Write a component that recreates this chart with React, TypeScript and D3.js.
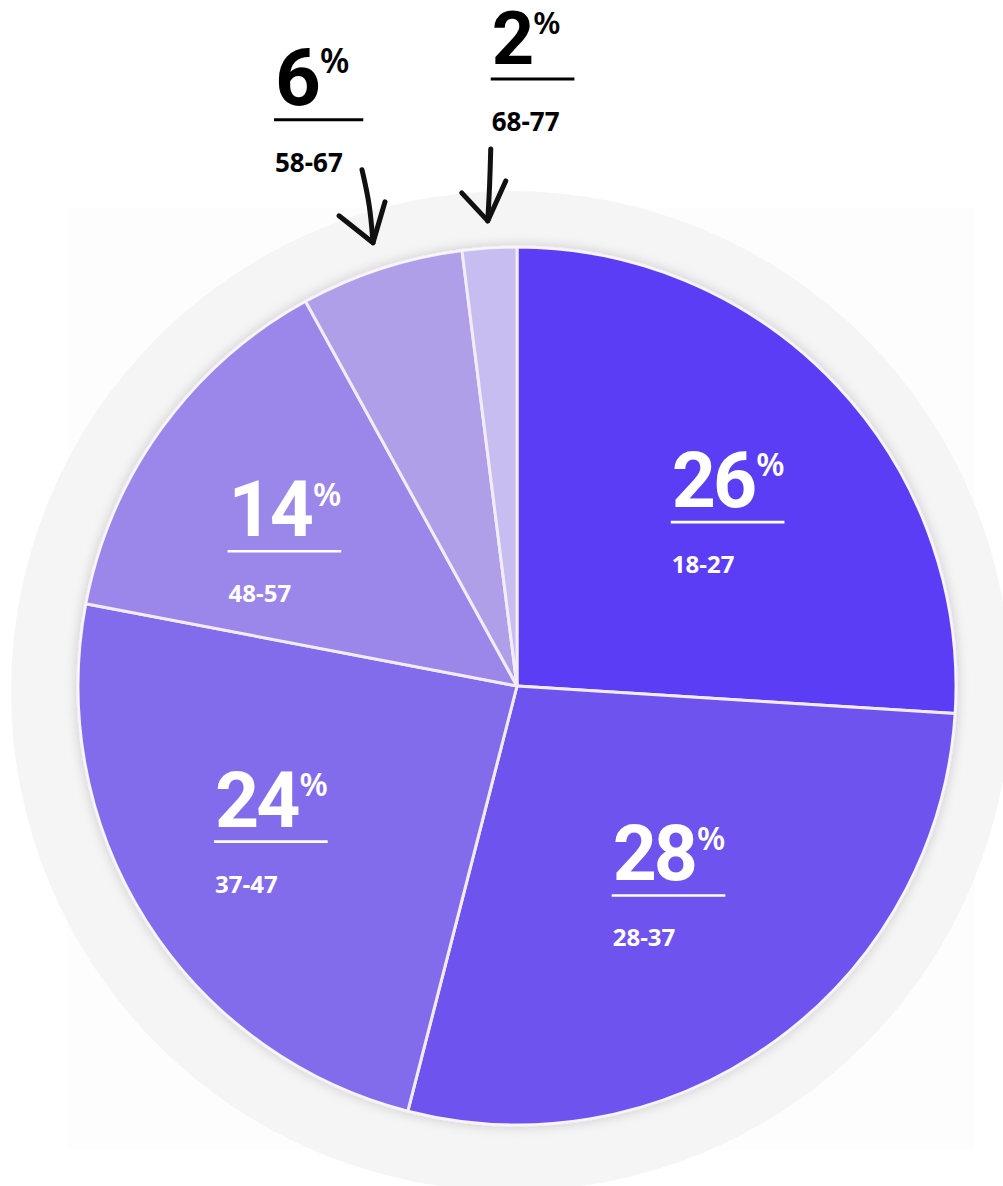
import React, { useEffect, useRef } from "react";
import * as d3 from "d3";

const ranges = ["18-27", "28-37", "37-47", "48-57", "58-67", "68-77"];
const shares = [26, 28, 24, 14, 6, 2];
const colors = ["#5C3CF6", "#6E52EE", "#826CEB", "#9B87E9", "#AF9FE9", "#C7BDF0"];
// inner labels: nudges from the label centroid; outer labels: offsets from arrow tip
const innerNudge: [number, number][] = [[13, 11], [-8, -19], [-19, 1], [-15, 14]];
const outerOffset: [number, number][] = [[-98, -138], [4, -157]];
const arrowShapes = [
  { shaft: [[-11, -73], [-3, -38], [0, 0]], left: [-34, -27], right: [12, -41] },
  { shaft: [[3, -72], [2, -35], [0, 0]], left: [-26, -28], right: [18, -40] },
];

const W = 1003, H = 1186;
const CX = 517, CY = 686, R = 439;

export default function App() {
  const ref = useRef<SVGSVGElement>(null);
  useEffect(() => {
    const svg = d3.select(ref.current);
    svg.selectAll("*").remove();
    const defs = svg.append("defs");
    const f = defs.append("filter").attr("id", "sh").attr("x", "-10%").attr("y", "-10%").attr("width", "120%").attr("height", "120%");
    f.append("feDropShadow").attr("dx", 0).attr("dy", 0).attr("stdDeviation", 6).attr("flood-color", "#000").attr("flood-opacity", 0.18);

    svg.append("rect").attr("x", 0).attr("y", 0).attr("width", W).attr("height", H).attr("fill", "#fff");
    svg.append("rect").attr("x", 68).attr("y", 208).attr("width", 907).attr("height", 942).attr("fill", "#FDFDFD");
    svg.append("circle").attr("cx", 511).attr("cy", 691).attr("r", 500).attr("fill", "#F5F5F5");

    const pie = d3.pie<number>().sort(null).value((d) => d).startAngle(0).endAngle(2 * Math.PI);
    const arcs = pie(shares);
    const arc = d3.arc<d3.PieArcDatum<number>>().innerRadius(0).outerRadius(R);
    const g = svg.append("g").attr("transform", `translate(${CX},${CY})`);
    const pg = g.append("g").attr("filter", "url(#sh)");
    pg.selectAll("path").data(arcs).join("path")
      .attr("d", arc as any)
      .attr("fill", (_, i) => colors[i])
      .attr("stroke", "#F3ECF7").attr("stroke-width", 3).attr("stroke-linejoin", "round");
    g.append("circle").attr("r", R).attr("fill", "none").attr("stroke", "#fff").attr("stroke-opacity", 0.6).attr("stroke-width", 1.5);

    const labelArc = d3.arc<d3.PieArcDatum<number>>().innerRadius(270).outerRadius(270);
    const drawLabel = (parent: any, left: number, base: number, num: number, range: string, color: string, numSize: number, rangeSize: number, sw: number) => {
      const t = parent.append("text").attr("x", left).attr("y", base)
        .attr("font-family", "Roboto, 'Noto Sans', sans-serif").attr("font-weight", 700)
        .attr("font-size", numSize).attr("letter-spacing", -3).attr("fill", color).text(String(num));
      const w = (t.node() as SVGTextElement).getComputedTextLength();
      const px = left + w + 2;
      const p = parent.append("text").attr("x", px).attr("y", base - numSize * 0.4)
        .attr("font-family", "'Noto Sans', sans-serif").attr("font-weight", 600)
        .attr("font-size", numSize * 0.42).attr("fill", color).text("%");
      const pw = (p.node() as SVGTextElement).getComputedTextLength();
      const ulEnd = Math.max(px + pw, left + (num >= 10 ? 111 : 0)) + (num >= 10 ? 0 : 14);
      parent.append("line").attr("x1", left - 1).attr("x2", ulEnd).attr("y1", base + 15).attr("y2", base + 15)
        .attr("stroke", color).attr("stroke-width", sw);
      parent.append("text").attr("x", left).attr("y", base + (num >= 10 ? 66 : 67))
        .attr("font-family", "'Noto Sans', sans-serif").attr("font-weight", 700)
        .attr("font-size", rangeSize).attr("fill", color).text(range);
    };

    arcs.slice(0, 4).forEach((a, i) => {
      const [x, y] = labelArc.centroid(a);
      const cx = x + innerNudge[i][0], cy = y + innerNudge[i][1];
      drawLabel(g, cx - 55, cy - 5, shares[i], ranges[i], "#fff", 77, 24, 2.6);
    });

    arcs.slice(4).forEach((a, j) => {
      const i = j + 4;
      const mid = (a.startAngle + a.endAngle) / 2;
      const tx = 466 * Math.sin(mid), ty = -466 * Math.cos(mid);
      const [ox, oy] = outerOffset[j];
      drawLabel(g, tx + ox, ty + oy, shares[i], ranges[i], "#000", j === 0 ? 80 : 74, 26, 3);
      const s = arrowShapes[j];
      const line = d3.line<number[]>().curve(d3.curveBasis).x((p) => tx + p[0]).y((p) => ty + p[1]);
      const ag = g.append("g").attr("fill", "none").attr("stroke", "#111").attr("stroke-width", 5).attr("stroke-linecap", "round").attr("stroke-linejoin", "round");
      ag.append("path").attr("d", line(s.shaft));
      ag.append("path").attr("d", d3.line()([[tx + s.left[0], ty + s.left[1]], [tx, ty], [tx + s.right[0], ty + s.right[1]]]));
    });
  }, []);
  return <svg ref={ref} width={W} height={H} style={{ position: "absolute", left: 0, top: 0, display: "block" }} />;
}
